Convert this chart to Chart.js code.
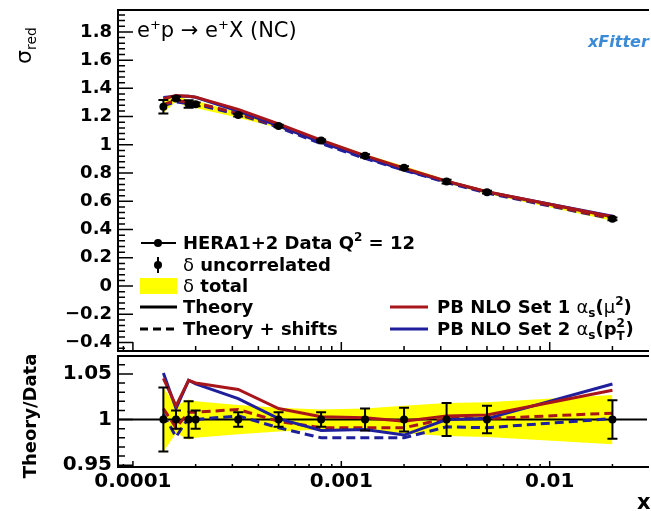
<!DOCTYPE html>
<html><head><meta charset="utf-8">
<script src="https://cdn.jsdelivr.net/npm/chart.js@4.4.1/dist/chart.umd.min.js"></script>
<style>
html,body{margin:0;padding:0;background:#fff;width:651px;height:511px;overflow:hidden}
canvas{position:absolute;left:0}
#top{top:0}
#bot{top:352px}
</style></head><body>
<canvas id="top" width="651" height="355"></canvas>
<canvas id="bot" width="651" height="159"></canvas>
<script>
// ---------- data ----------
const xValues     = [1.4e-4, 1.61e-4, 1.85e-4, 2.0e-4, 3.2e-4, 5.0e-4, 8.0e-4, 1.3e-3, 2.0e-3, 3.2e-3, 5.0e-3, 2.0e-2];
const sigmaData   = [1.270, 1.329, 1.289, 1.287, 1.211, 1.134, 1.030, 0.922, 0.837, 0.740, 0.665, 0.476];
const sigmaUncErr = [0.048, 0.013, 0.026, 0.013, 0.010, 0.009, 0.008, 0.011, 0.011, 0.013, 0.010, 0.010];
const sigmaTotErr = [0.044, 0.020, 0.028, 0.026, 0.019, 0.015, 0.011, 0.011, 0.013, 0.013, 0.013, 0.013];
const theorySet1  = [1.327, 1.349, 1.344, 1.338, 1.251, 1.148, 1.033, 0.924, 0.835, 0.743, 0.668, 0.491];
const theorySet2  = [1.335, 1.345, 1.344, 1.337, 1.239, 1.135, 1.018, 0.912, 0.823, 0.740, 0.666, 0.495];
const shiftedSet1 = [1.285, 1.317, 1.299, 1.297, 1.224, 1.132, 1.021, 0.914, 0.829, 0.741, 0.666, 0.479];
const shiftedSet2 = [1.278, 1.304, 1.292, 1.287, 1.216, 1.124, 1.009, 0.904, 0.820, 0.734, 0.659, 0.476];

const ratioData   = [1, 1, 1, 1, 1, 1, 1, 1, 1, 1, 1, 1];
const ratioUncErr = [0.035, 0.010, 0.020, 0.010, 0.008, 0.008, 0.008, 0.012, 0.013, 0.018, 0.015, 0.021];
const ratioTotErr = [0.035, 0.015, 0.022, 0.020, 0.016, 0.013, 0.011, 0.012, 0.015, 0.018, 0.019, 0.027];
const ratioSet1   = [1.045, 1.015, 1.043, 1.040, 1.033, 1.012, 1.003, 1.002, 0.998, 1.004, 1.005, 1.032];
const ratioSet2   = [1.051, 1.012, 1.043, 1.039, 1.023, 1.001, 0.988, 0.989, 0.983, 1.000, 1.001, 1.039];
const ratioShift1 = [1.012, 0.991, 1.008, 1.008, 1.011, 0.998, 0.991, 0.991, 0.991, 1.001, 1.001, 1.007];
const ratioShift2 = [1.006, 0.981, 1.002, 1.000, 1.004, 0.991, 0.980, 0.980, 0.980, 0.992, 0.991, 1.001];

const sigmaTicks  = [-0.4, -0.2, 0, 0.2, 0.4, 0.6, 0.8, 1, 1.2, 1.4, 1.6, 1.8];
const ratioTicks  = [0.95, 1, 1.05];
const xTickLabels = [0.0001, 0.001, 0.01];

// ---------- styling ----------
const RED = '#a8161b', BLUE = '#1f1f9c', YEL = '#ffff00';
const XMIN = 8.48e-5, XMAX = 0.0293;
const FONT = "'DejaVu Sans', sans-serif";
Chart.defaults.font.family = FONT;
Chart.defaults.color = '#000';

const pts = arr => xValues.map((x, i) => ({x: x, y: arr[i]}));
const band = (v, e, s) => xValues.map((x, i) => ({x: x, y: v[i] + s * e[i]}));
const fmt = v => (v < 0 ? '\u2212' + String(Math.abs(v)) : String(v));

function lineDs(arr, color, dashed) {
  return {data: pts(arr), borderColor: color, borderWidth: 3, borderDash: dashed ? [9, 5] : [],
          pointRadius: 0, fill: false, tension: 0};
}
function makeDatasets(val, unc, tot, s1, s2, h1, h2) {
  return [
    {data: pts(val), showLine: false, pointRadius: 4, pointBackgroundColor: '#000',
     pointBorderColor: '#000', pointBorderWidth: 0, errors: unc},
    lineDs(s1, RED, false), lineDs(s2, BLUE, false),
    lineDs(h1, RED, true), lineDs(h2, BLUE, true),
    {data: band(val, tot, 1), borderColor: 'rgba(0,0,0,0)', pointRadius: 0, fill: false},
    {data: band(val, tot, -1), borderColor: 'rgba(0,0,0,0)', pointRadius: 0, fill: 5, backgroundColor: YEL}
  ];
}

function minorLogValues() {
  const out = [];
  for (let d = -5; d <= -1; d++) for (let m = 1; m <= 9; m++) {
    const v = m * Math.pow(10, d);
    if (v >= XMIN && v <= XMAX) out.push({v: v, major: m === 1});
  }
  return out;
}

const noPad = s => { s.paddingTop = 0; s.paddingBottom = 0; s.paddingLeft = 0; s.paddingRight = 0; };

function framePlugin(opt) {
  return {
    id: 'frame',
    beforeDatasetsDraw(chart) {
      if (!opt.unityLine) return;
      const a = chart.chartArea, ctx = chart.ctx, y = chart.scales.y.getPixelForValue(1);
      ctx.save(); ctx.strokeStyle = '#000'; ctx.lineWidth = 2;
      ctx.beginPath(); ctx.moveTo(a.left, y); ctx.lineTo(a.right, y); ctx.stroke(); ctx.restore();
    },
    afterDatasetsDraw(chart) {
      const ctx = chart.ctx, ys = chart.scales.y;
      chart.data.datasets.forEach((ds, i) => {
        if (!ds.errors) return;
        const meta = chart.getDatasetMeta(i);
        ctx.save(); ctx.strokeStyle = '#000'; ctx.lineWidth = 2;
        meta.data.forEach((p, j) => {
          const v = ds.data[j].y, e = ds.errors[j];
          const y1 = ys.getPixelForValue(v + e), y2 = ys.getPixelForValue(v - e);
          ctx.beginPath();
          ctx.moveTo(p.x, y1); ctx.lineTo(p.x, y2);
          ctx.moveTo(p.x - 5, y1); ctx.lineTo(p.x + 5, y1);
          ctx.moveTo(p.x - 5, y2); ctx.lineTo(p.x + 5, y2);
          ctx.stroke();
        });
        ctx.restore();
      });
    },
    afterDraw(chart) {
      const a = chart.chartArea, ctx = chart.ctx, xs = chart.scales.x, ys = chart.scales.y;
      ctx.save();
      ctx.strokeStyle = '#000'; ctx.lineWidth = 2;
      ctx.beginPath();
      ctx.moveTo(a.right + 2, a.top); ctx.lineTo(a.left, a.top); ctx.lineTo(a.left, a.bottom); ctx.lineTo(a.right + 2, a.bottom);
      ctx.stroke();
      ctx.lineWidth = 1.5;
      const ymin = ys.min, ymax = ys.max, step = opt.minorY;
      const start = Math.ceil((ymin - 1e-9) / step);
      ctx.beginPath();
      for (let k = start; k * step <= ymax + 1e-9; k++) {
        const v = k * step;
        const isMajor = opt.majorY.some(t => Math.abs(t - v) < 1e-6);
        const y = ys.getPixelForValue(v);
        ctx.moveTo(a.left, y); ctx.lineTo(a.left + (isMajor ? 15 : 7), y);
      }
      minorLogValues().forEach(t => {
        const x = xs.getPixelForValue(t.v);
        ctx.moveTo(x, a.bottom); ctx.lineTo(x, a.bottom - (t.major ? opt.xMaj : opt.xMin));
      });
      ctx.stroke();
      ctx.restore();
      if (opt.extra) opt.extra(chart);
    }
  };
}

function drawPieces(ctx, x, y, pieces) {
  pieces.forEach(p => {
    ctx.font = p.f;
    ctx.fillText(p.t, x, y + (p.dy || 0));
    x += ctx.measureText(p.t).width + (p.gap || 0);
  });
  return x;
}

function topExtras(chart) {
  const ctx = chart.ctx;
  ctx.save();
  ctx.fillStyle = '#000';
  ctx.textBaseline = 'alphabetic';
  const B = "bold 18px " + FONT, R = "18px " + FONT, BS = "bold 12px " + FONT;
  drawPieces(ctx, 137, 37, [
    {t: 'e', f: '21px ' + FONT}, {t: '+', f: '13px ' + FONT, dy: -8},
    {t: 'p \u2192 e', f: '21px ' + FONT}, {t: '+', f: '13px ' + FONT, dy: -8},
    {t: 'X (NC)', f: '21px ' + FONT}
  ]);
  ctx.save();
  ctx.translate(31, 64); ctx.rotate(-Math.PI / 2);
  drawPieces(ctx, 0, 0, [{t: '\u03c3', f: '22px ' + FONT}, {t: 'red', f: '14px ' + FONT, dy: 5}]);
  ctx.restore();
  ctx.save();
  ctx.fillStyle = '#3b8ad6';
  ctx.font = 'italic bold 16px ' + FONT;
  ctx.fillText('xFitter', 588, 47);
  ctx.restore();

  const base = 6;
  const rows = [243, 265, 286, 307, 329];
  ctx.strokeStyle = '#000';
  ctx.lineWidth = 2;
  ctx.beginPath(); ctx.moveTo(141, rows[0]); ctx.lineTo(176, rows[0]); ctx.stroke();
  ctx.beginPath(); ctx.arc(158, rows[0], 4, 0, 2 * Math.PI); ctx.fill();
  drawPieces(ctx, 183, rows[0] + base, [
    {t: 'HERA1+2 Data Q', f: B}, {t: '2', f: BS, dy: -8}, {t: ' = 12', f: B}
  ]);
  ctx.beginPath(); ctx.moveTo(158, rows[1] - 8); ctx.lineTo(158, rows[1] + 8); ctx.stroke();
  ctx.beginPath(); ctx.arc(158, rows[1], 4, 0, 2 * Math.PI); ctx.fill();
  drawPieces(ctx, 183, rows[1] + base, [{t: '\u03b4', f: R}, {t: ' uncorrelated', f: B}]);
  ctx.fillStyle = YEL; ctx.fillRect(140, rows[2] - 8, 37, 16); ctx.fillStyle = '#000';
  drawPieces(ctx, 183, rows[2] + base, [{t: '\u03b4', f: R}, {t: ' total', f: B}]);
  ctx.lineWidth = 3;
  ctx.beginPath(); ctx.moveTo(140, rows[3]); ctx.lineTo(177, rows[3]); ctx.stroke();
  drawPieces(ctx, 183, rows[3] + base, [{t: 'Theory', f: B}]);
  ctx.setLineDash([8, 5]);
  ctx.beginPath(); ctx.moveTo(140, rows[4]); ctx.lineTo(177, rows[4]); ctx.stroke();
  ctx.setLineDash([]);
  drawPieces(ctx, 183, rows[4] + base, [{t: 'Theory + shifts', f: B}]);
  ctx.strokeStyle = RED;
  ctx.beginPath(); ctx.moveTo(390, rows[3]); ctx.lineTo(428, rows[3]); ctx.stroke();
  drawPieces(ctx, 437, rows[3] + base, [
    {t: 'PB NLO Set 1 ', f: B}, {t: '\u03b1', f: R}, {t: 's', f: BS, dy: 4},
    {t: '(', f: B}, {t: '\u03bc', f: R}, {t: '2', f: BS, dy: -8}, {t: ')', f: B}
  ]);
  ctx.strokeStyle = BLUE;
  ctx.beginPath(); ctx.moveTo(390, rows[4]); ctx.lineTo(428, rows[4]); ctx.stroke();
  const xe = drawPieces(ctx, 437, rows[4] + base, [
    {t: 'PB NLO Set 2 ', f: B}, {t: '\u03b1', f: R}, {t: 's', f: BS, dy: 4},
    {t: '(', f: B}, {t: 'p', f: B}
  ]);
  ctx.font = BS;
  ctx.fillText('2', xe, rows[4] + base - 8);
  ctx.fillText('T', xe, rows[4] + base + 5);
  ctx.font = B;
  ctx.fillText(')', xe + 9, rows[4] + base);
  ctx.restore();
}

function botExtras(chart) {
  const ctx = chart.ctx;
  ctx.save();
  ctx.fillStyle = '#000';
  ctx.font = 'bold 18px ' + FONT;
  ctx.textAlign = 'center';
  ctx.translate(36, 64); ctx.rotate(-Math.PI / 2);
  ctx.fillText('Theory/Data', 0, 0);
  ctx.restore();
  ctx.save();
  ctx.fillStyle = '#000';
  ctx.font = 'bold 21px ' + FONT;
  ctx.fillText('x', 637, 157);
  ctx.restore();
}

const commonPlugins = {legend: {display: false}, tooltip: {enabled: false}, filler: {drawTime: 'beforeDatasetsDraw'}};

new Chart(document.getElementById('top'), {
  type: 'line',
  data: {datasets: makeDatasets(sigmaData, sigmaUncErr, sigmaTotErr, theorySet1, theorySet2, shiftedSet1, shiftedSet2)},
  options: {
    responsive: false, animation: false, events: [],
    layout: {padding: {top: 10, bottom: 3, left: 0, right: 0}},
    plugins: commonPlugins,
    scales: {
      x: {type: 'logarithmic', display: false, min: XMIN, max: XMAX},
      y: {type: 'linear', min: -0.46, max: 1.955,
          afterBuildTicks: s => { s.ticks = sigmaTicks.map(v => ({value: v})); },
          afterFit: s => { s.width = 118; noPad(s); },
          grid: {display: false, drawTicks: false}, border: {display: false},
          ticks: {font: {size: 18, weight: 'bold'}, color: '#000', padding: 6, callback: v => fmt(v)}}
    }
  },
  plugins: [framePlugin({majorY: sigmaTicks, minorY: 0.04, xMaj: 9, xMin: 5, extra: topExtras})]
});

new Chart(document.getElementById('bot'), {
  type: 'line',
  data: {datasets: makeDatasets(ratioData, ratioUncErr, ratioTotErr, ratioSet1, ratioSet2, ratioShift1, ratioShift2)},
  options: {
    responsive: false, animation: false, events: [],
    layout: {padding: {top: 3, bottom: 0, left: 0, right: 0}},
    plugins: commonPlugins,
    scales: {
      x: {type: 'logarithmic', min: XMIN, max: XMAX,
          afterBuildTicks: s => { s.ticks = xTickLabels.map(v => ({value: v})); },
          afterFit: s => { s.height = 44; noPad(s); },
          grid: {display: false, drawTicks: false}, border: {display: false},
          ticks: {font: {size: 20, weight: 'bold'}, color: '#000', padding: 3, maxRotation: 0, autoSkip: false,
                  callback: v => String(v)}},
      y: {type: 'linear', min: 0.948, max: 1.0696,
          afterBuildTicks: s => { s.ticks = ratioTicks.map(v => ({value: v})); },
          afterFit: s => { s.width = 118; noPad(s); },
          grid: {display: false, drawTicks: false}, border: {display: false},
          ticks: {font: {size: 20, weight: 'bold'}, color: '#000', padding: 6, callback: v => fmt(v)}}
    }
  },
  plugins: [framePlugin({majorY: ratioTicks, minorY: 0.01, xMaj: 6, xMin: 3, unityLine: true, extra: botExtras})]
});
</script>
</body></html>
